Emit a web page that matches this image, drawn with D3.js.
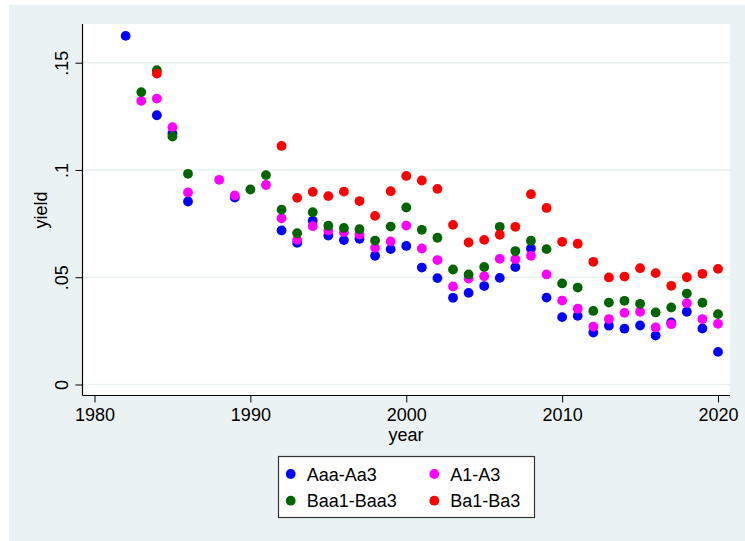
<!DOCTYPE html>
<html>
<head>
<meta charset="utf-8" />
<title>yield by year</title>
<style>
  body { margin: 0; background: #fff; }
  svg text { font-family: "Liberation Sans", Arial, Helvetica, sans-serif; fill: #000; }
</style>
</head>
<body>
<div id="graph"></div>
<script src="https://cdnjs.cloudflare.com/ajax/libs/d3/7.8.5/d3.min.js"></script>
<script>
// series: Aaa-Aa3
var aaaYear  = [1982,1984,1985,1986,1989,1992,1993,1994,1995,1996,1997,1998,1999,2000,2001,2002,2003,2004,2005,2006,2007,2008,2009,2010,2011,2012,2013,2014,2015,2016,2017,2018,2019,2020];
var aaaYield = [.1625,.1255,.1170,.0853,.0871,.0718,.0660,.0763,.0694,.0673,.0679,.0600,.0631,.0646,.0545,.0496,.0404,.0427,.0459,.0497,.0547,.0634,.0405,.0314,.0320,.0242,.0274,.0260,.0275,.0228,.0289,.0339,.0261,.0152];
// series: A1-A3
var aYear  = [1983,1984,1985,1986,1988,1989,1991,1992,1993,1994,1995,1996,1997,1998,1999,2000,2001,2002,2003,2004,2005,2006,2007,2008,2009,2010,2011,2012,2013,2014,2015,2016,2017,2018,2019,2020];
var aYield = [.1322,.1333,.1199,.0895,.0954,.0881,.0930,.0775,.0674,.0738,.0718,.0710,.0699,.0637,.0667,.0741,.0634,.0580,.0457,.0494,.0505,.0586,.0584,.0600,.0513,.0391,.0353,.0270,.0305,.0334,.0339,.0266,.0281,.0379,.0305,.0283];
// series: Baa1-Baa3
var baaYear  = [1983,1984,1985,1986,1990,1991,1992,1993,1994,1995,1996,1997,1998,1999,2000,2001,2002,2003,2004,2005,2006,2007,2008,2009,2010,2011,2012,2013,2014,2015,2016,2017,2018,2019,2020];
var baaYield = [.1363,.1465,.1156,.0982,.0909,.0976,.0815,.0705,.0803,.0740,.0730,.0724,.0671,.0736,.0825,.0721,.0684,.0536,.0513,.0548,.0735,.0622,.0670,.0631,.0471,.0452,.0343,.0382,.0390,.0376,.0336,.0359,.0424,.0381,.0328];
// series: Ba1-Ba3
var baYear  = [1984,1992,1993,1994,1995,1996,1997,1998,1999,2000,2001,2002,2003,2004,2005,2006,2007,2008,2009,2010,2011,2012,2013,2014,2015,2016,2017,2018,2019,2020];
var baYield = [.1449,.1112,.0870,.0898,.0878,.0899,.0855,.0786,.0901,.0972,.0951,.0912,.0744,.0662,.0674,.0698,.0735,.0887,.0823,.0665,.0656,.0572,.0499,.0503,.0542,.0519,.0460,.0500,.0516,.0539];

var seriesNames  = ["Aaa-Aa3", "A1-A3", "Baa1-Baa3", "Ba1-Ba3"];
var seriesColors = ["#0000ff", "#ff00ff", "#006400", "#ff0000"];
var xTicks = [1980, 1990, 2000, 2010, 2020];
var yTicks = [0, .05, .1, .15];
var yTickLabels = ["0", ".05", ".1", ".15"];

var series = [
  {name: seriesNames[0], color: seriesColors[0], years: aaaYear, vals: aaaYield},
  {name: seriesNames[1], color: seriesColors[1], years: aYear,   vals: aYield},
  {name: seriesNames[2], color: seriesColors[2], years: baaYear, vals: baaYield},
  {name: seriesNames[3], color: seriesColors[3], years: baYear,  vals: baYield}
];

var width = 745, height = 541;
var plot = {left: 82.5, right: 730, top: 24, bottom: 395.5};

var svg = d3.select("#graph").append("svg")
  .attr("width", width)
  .attr("height", height);

// outer graph region
svg.append("rect")
  .attr("x", 9).attr("y", 5)
  .attr("width", width - 9).attr("height", height - 5)
  .attr("fill", "#eaf2f3");

// plot region
svg.append("rect")
  .attr("x", plot.left).attr("y", plot.top)
  .attr("width", plot.right - plot.left).attr("height", plot.bottom - plot.top)
  .attr("fill", "#fff");

var x = d3.scaleLinear().domain([1980, 2020]).range([94.5, 718]);
var y = d3.scaleLinear().domain([0, .15]).range([384.5, 62.7]);

// gridlines
svg.append("g").selectAll("line")
  .data(yTicks)
  .enter().append("line")
  .attr("x1", plot.left).attr("x2", plot.right)
  .attr("y1", function(d){ return y(d); })
  .attr("y2", function(d){ return y(d); })
  .attr("stroke", "#eaf2f3")
  .attr("stroke-width", 1.5);

// y axis
var yAxis = d3.axisLeft(y)
  .tickValues(yTicks)
  .tickSize(7)
  .tickPadding(0)
  .tickFormat(function(d, i){ return yTickLabels[i]; });

var gy = svg.append("g")
  .attr("transform", "translate(" + plot.left + ",0)")
  .call(yAxis);
gy.select(".domain").remove();
gy.selectAll(".tick line").attr("stroke", "#000");
gy.selectAll(".tick text")
  .attr("x", 0).attr("y", 0).attr("dy", null)
  .attr("transform", "translate(-15,0) rotate(-90)")
  .attr("text-anchor", "middle")
  .style("font-size", "18px")
  .style("font-family", "'Liberation Sans', Arial, sans-serif");

// x axis
var xAxis = d3.axisBottom(x)
  .tickValues(xTicks)
  .tickSize(7)
  .tickPadding(6)
  .tickFormat(d3.format("d"));

var gx = svg.append("g")
  .attr("transform", "translate(0," + plot.bottom + ")")
  .call(xAxis);
gx.select(".domain").remove();
gx.selectAll(".tick line").attr("stroke", "#000");
gx.selectAll(".tick text")
  .style("font-size", "18px")
  .style("font-family", "'Liberation Sans', Arial, sans-serif");

// axis lines
svg.append("line")
  .attr("x1", plot.left).attr("x2", plot.left)
  .attr("y1", plot.top).attr("y2", plot.bottom)
  .attr("stroke", "#000").attr("stroke-width", 1.2);
svg.append("line")
  .attr("x1", plot.left).attr("x2", plot.right)
  .attr("y1", plot.bottom).attr("y2", plot.bottom)
  .attr("stroke", "#000").attr("stroke-width", 1.2);

// axis titles
svg.append("text")
  .attr("transform", "translate(47,210) rotate(-90)")
  .attr("text-anchor", "middle")
  .style("font-size", "18px")
  .text("yield");
svg.append("text")
  .attr("x", 406).attr("y", 441)
  .attr("text-anchor", "middle")
  .style("font-size", "18px")
  .text("year");

// points
series.forEach(function(s){
  svg.append("g").selectAll("circle")
    .data(s.years)
    .enter().append("circle")
    .attr("cx", function(d){ return x(d); })
    .attr("cy", function(d, i){ return y(s.vals[i]); })
    .attr("r", 4.9)
    .attr("fill", s.color);
});

// legend
var legend = svg.append("g");
legend.append("rect")
  .attr("x", 278.5).attr("y", 456.5)
  .attr("width", 256).attr("height", 61)
  .attr("fill", "#fff")
  .attr("stroke", "#333")
  .attr("stroke-width", 1.2);

var legendPos = [[290.7, 474], [434.3, 474], [290.7, 500.7], [434.3, 500.7]];
var item = legend.selectAll("g.item")
  .data(series)
  .enter().append("g")
  .attr("class", "item")
  .attr("transform", function(d, i){ return "translate(" + legendPos[i][0] + "," + legendPos[i][1] + ")"; });
item.append("circle")
  .attr("r", 4.9)
  .attr("fill", function(d){ return d.color; });
item.append("text")
  .attr("x", 16).attr("y", 6.5)
  .style("font-size", "18px")
  .text(function(d){ return d.name; });
</script>
</body>
</html>
